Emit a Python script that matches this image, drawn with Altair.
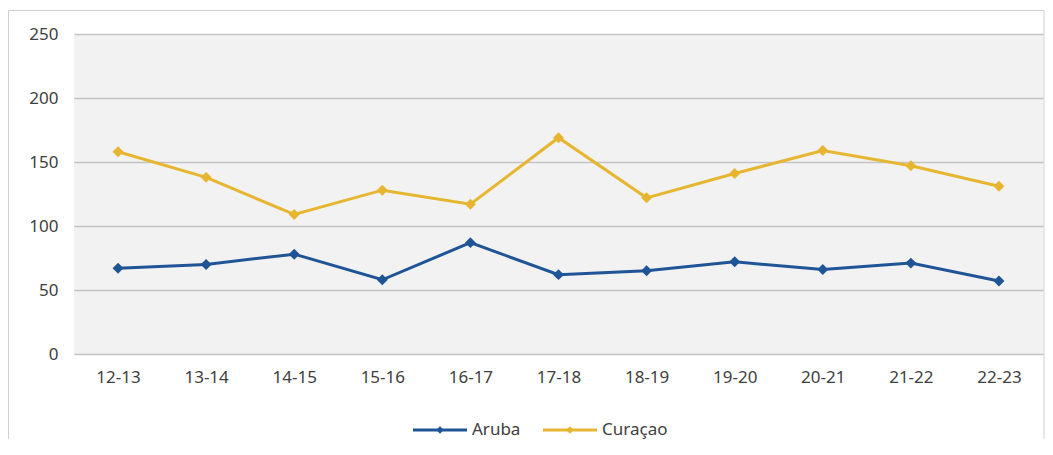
import altair as alt
import pandas as pd

seasons = ["12-13", "13-14", "14-15", "15-16", "16-17", "17-18", "18-19", "19-20", "20-21", "21-22", "22-23"]
aruba = [67, 70, 78, 58, 87, 62, 65, 72, 66, 71, 57]
curacao = [158, 138, 109, 128, 117, 169, 122, 141, 159, 147, 131]
series_names = ["Aruba", "Curaçao"]
series_colors = ["#1F5596", "#E6B631"]
y_ticks = [0, 50, 100, 150, 200, 250]

rows = []
for s, a, c in zip(seasons, aruba, curacao):
    rows.append({"season": s, "series": "Aruba", "value": a})
    rows.append({"season": s, "series": "Curaçao", "value": c})
df = pd.DataFrame(rows)
legend_df = pd.DataFrame({"series": series_names})

FONT = "Noto Sans"
TXT = "#404040"
x = alt.X("season:N", sort=seasons, title=None,
          scale=alt.Scale(type="point", padding=0.5),
          axis=alt.Axis(labelAngle=0, ticks=False, domain=False, labelPadding=15,
                        labelFontSize=17, labelColor=TXT, labelFont=FONT, grid=False))
y = alt.Y("value:Q", title=None,
          scale=alt.Scale(domain=[0, 250], nice=False),
          axis=alt.Axis(values=y_ticks, ticks=False, domain=False, labelPadding=16,
                        labelFontSize=17, labelColor=TXT, labelFont=FONT,
                        grid=True, gridColor="#C4C4C4", gridWidth=1.5))
color_scale = alt.Scale(domain=series_names, range=series_colors)
col = alt.Color("series:N", scale=color_scale, legend=None)

base = alt.Chart(df)
lines = base.mark_line(strokeWidth=3).encode(x=x, y=y, color=col)
points = base.mark_point(shape="diamond", filled=True, size=120, opacity=1).encode(
    x=x, y=y, color=col)

# manual legend (layout positions only)
legend_layers = []
legend_x0 = [339, 469]
for name, x0 in zip(series_names, legend_x0):
    lb = alt.Chart(legend_df).transform_filter(alt.datum.series == name)
    legend_layers.append(lb.mark_rule(strokeWidth=3, clip=False).encode(
        x=alt.value(x0), x2=alt.value(x0 + 54), y=alt.value(396), color=col))
    legend_layers.append(lb.mark_point(shape="diamond", filled=True, size=55, opacity=1,
                                       clip=False).encode(
        x=alt.value(x0 + 27), y=alt.value(396), color=col))
    legend_layers.append(lb.mark_text(align="left", baseline="middle", fontSize=17,
                                      font=FONT, color=TXT, clip=False).encode(
        x=alt.value(x0 + 59), y=alt.value(396), text="series:N"))

border = alt.Chart(pd.DataFrame({"k": [0]})).mark_rect(
    fill=None, stroke="#D0D0D0", strokeWidth=1, clip=False).encode(
    x=alt.value(-65.5), x2=alt.value(970), y=alt.value(-23.5), y2=alt.value(440))

chart = alt.layer(border, lines, points, *legend_layers).properties(
    width=969, height=320,
    padding={"left": 66, "top": 26, "right": 2, "bottom": 85},
    autosize=alt.AutoSizeParams(type="none"),
    background="white",
).configure_view(fill="#F2F2F2", stroke=None)

chart.save("out.html", embed_options={"renderer": "svg", "actions": False})
